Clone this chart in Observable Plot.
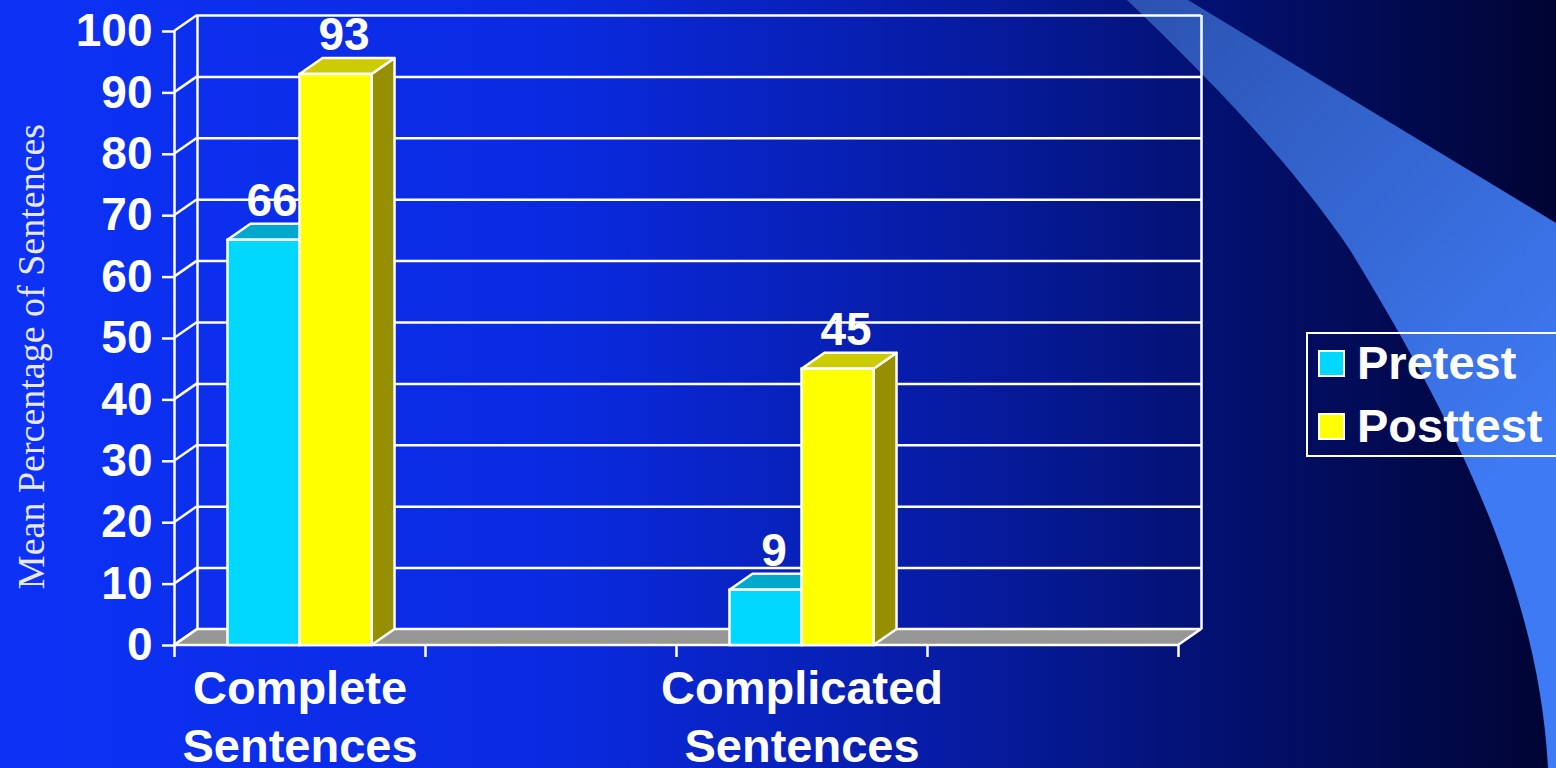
<!DOCTYPE html>
<html>
<head>
<meta charset="utf-8">
<script src="https://cdn.jsdelivr.net/npm/d3@7"></script>
<script src="https://cdn.jsdelivr.net/npm/@observablehq/plot@0.6"></script>
<style>
html, body { margin: 0; padding: 0; width: 1556px; height: 768px; overflow: hidden; }
body {
  position: relative;
  background: linear-gradient(to right, #0d32f6 0%, #0a2ae0 36%, #061a9c 64%, #03106e 79%, #000433 100%);
  font-family: Arial, "Liberation Sans", sans-serif;
}
#swoosh { position: absolute; left: 0; top: 0; }
#chart { position: absolute; left: 0; top: 0; }
#legend {
  position: absolute; left: 1306px; top: 332px; width: 280px; height: 125px;
  box-sizing: border-box; border: 2.5px solid #fff;
}
.lg-row { position: absolute; left: 10px; height: 40px; display: flex; align-items: center; }
.lg-sw { width: 23px; height: 23px; border: 2px solid #fff; margin-right: 12px; }
.lg-tx { color: #fff; font-weight: bold; font-size: 47px; line-height: 40px; white-space: nowrap; }
</style>
</head>
<body>
<svg id="swoosh" width="1556" height="768">
  <defs>
    <linearGradient id="swg" x1="1127" y1="0" x2="1556" y2="420" gradientUnits="userSpaceOnUse">
      <stop offset="0" stop-color="#2b52b0"/>
      <stop offset="1" stop-color="#3e7af3"/>
    </linearGradient>
  </defs>
  <path d="M1127,0 L1188,0 L1556,223 L1556,768 L1548,768 C1540,620 1485,470 1350,250 C1290,160 1200,70 1127,0 Z" fill="url(#swg)"/>
</svg>
<div id="chart"></div>
<div id="legend"></div>
<script>
// ---- data ----
const slots = ["Complete\nSentences", "", "Complicated\nSentences", ""];
const seriesNames = ["Pretest", "Posttest"];
const pretest = [66, null, 9, null];
const posttest = [93, null, 45, null];
const yTicks = [0, 10, 20, 30, 40, 50, 60, 70, 80, 90, 100];
const frontColors = ["#00d8ff", "#ffff00"];
const topColors = ["#00a8cc", "#cccc00"];
const sideColors = ["#0090a8", "#969000"];
const yTitle = "Mean Percentage of Sentences";

// ---- styling constants ----
const DX = 23, DY = -16;      // 3-D depth offset in pixels
const BAR_W = 0.287;          // bar width as fraction of a category slot
const WHITE = "#ffffff";
const SW = 2.5;
const FONT = "Arial, 'Liberation Sans', sans-serif";

const seriesValues = [pretest, posttest];
const rows = [];
slots.forEach((s, i) => {
  seriesValues.forEach((arr, k) => {
    const v = arr[i];
    if (v == null) return;
    const c = i + 0.5;
    rows.push({slot: i, k, series: seriesNames[k], value: v,
               x1: k === 0 ? c - BAR_W : c, x2: k === 0 ? c : c + BAR_W});
  });
});
const catLabels = slots.map((s, i) => ({i, s})).filter(d => d.s);
const N = slots.length;

function poly(g, pts, fill) {
  g.append("path")
    .attr("d", "M" + pts.map(p => p.join(",")).join("L") + "Z")
    .attr("fill", fill).attr("stroke", WHITE).attr("stroke-width", SW)
    .attr("stroke-linejoin", "round");
}

// floor and left wall diagonals
function floorWalls(index, scales) {
  const {x, y} = scales;
  const g = d3.create("svg:g");
  const x0 = x(0), xN = x(N), y0 = y(0);
  poly(g, [[x0, y0], [xN, y0], [xN + DX, y0 + DY], [x0 + DX, y0 + DY]], "#969696");
  for (const t of yTicks) {
    g.append("line").attr("x1", x0).attr("y1", y(t)).attr("x2", x0 + DX).attr("y2", y(t) + DY)
      .attr("stroke", WHITE).attr("stroke-width", SW);
  }
  return g.node();
}

// bar sides and tops
function barDepth(index, scales) {
  const {x, y} = scales;
  const g = d3.create("svg:g");
  const y0 = y(0);
  for (const r of rows) {
    const xa = x(r.x1), xb = x(r.x2), yt = y(r.value);
    poly(g, [[xb, yt], [xb + DX, yt + DY], [xb + DX, y0 + DY], [xb, y0]], sideColors[r.k]);
    poly(g, [[xa, yt], [xb, yt], [xb + DX, yt + DY], [xa + DX, yt + DY]], topColors[r.k]);
  }
  return g.node();
}

const chart = Plot.plot({
  width: 1556,
  height: 768,
  marginLeft: 174,
  marginRight: 378,
  marginTop: 31,
  marginBottom: 123,
  style: {background: "transparent", color: WHITE, fontFamily: FONT, fontSize: "46px", fontWeight: "bold", overflow: "visible"},
  x: {domain: [0, N], label: null},
  y: {domain: [0, 100], label: null},
  color: {domain: seriesNames, range: frontColors},
  marks: [
    // back wall grid lines and edges
    Plot.ruleY(yTicks, {x1: 0, x2: N, dx: DX, dy: DY, stroke: WHITE, strokeWidth: SW}),
    Plot.ruleX([0, N], {y1: 0, y2: 100, dx: DX, dy: DY, stroke: WHITE, strokeWidth: SW}),
    floorWalls,
    // front left edge
    Plot.ruleX([0], {y1: 0, y2: 100, stroke: WHITE, strokeWidth: SW}),
    Plot.axisY({ticks: yTicks, tickSize: 12, tickPadding: 10, strokeWidth: SW, label: null,
                fontSize: 46, fontWeight: "bold", fill: WHITE}),
    Plot.axisX({ticks: d3.range(N + 1), tickSize: 12, strokeWidth: SW, text: null, label: null}),
    barDepth,
    Plot.rect(rows, {x1: "x1", x2: "x2", y1: 0, y2: "value", fill: "series", stroke: WHITE, strokeWidth: SW}),
    Plot.text(rows, {x: d => (d.x1 + d.x2) / 2, y: "value", text: d => String(d.value),
                     dx: 8, dy: -24, lineAnchor: "bottom", fontSize: 46, fontWeight: "bold", fill: WHITE}),
    Plot.text(catLabels, {x: d => d.i + 0.5, y: 0, text: "s", lineAnchor: "top", dy: 17,
                          lineHeight: 1.24, fontSize: 47, fontWeight: "bold", fill: WHITE}),
    Plot.text([yTitle], {frameAnchor: "left", textAnchor: "middle", rotate: -90, dx: -143, dy: 18,
                         fontFamily: "'Times New Roman', 'Liberation Serif', serif", fontSize: 38,
                         fontWeight: "normal", fill: "#e6e8ff"})
  ]
});
document.getElementById("chart").appendChild(chart);

// legend
const legend = document.getElementById("legend");
seriesNames.forEach((name, k) => {
  const row = document.createElement("div");
  row.className = "lg-row";
  row.style.top = (9 + k * 63) + "px";
  const sw = document.createElement("div");
  sw.className = "lg-sw";
  sw.style.background = frontColors[k];
  const tx = document.createElement("div");
  tx.className = "lg-tx";
  tx.textContent = name;
  row.appendChild(sw); row.appendChild(tx);
  legend.appendChild(row);
});
</script>
</body>
</html>
